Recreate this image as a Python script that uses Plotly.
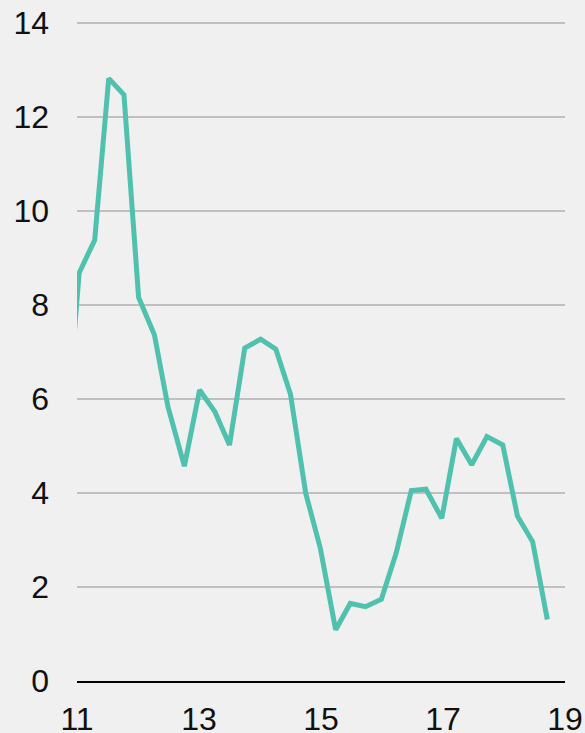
import plotly.graph_objects as go

# Quarterly observations (year offset from 2000); first point lies just before the axis start and is clipped
x_vals = [10.79, 11.035, 11.29, 11.52, 11.77, 12.01, 12.27, 12.49, 12.76, 13.01, 13.26, 13.50, 13.75,
          14.01, 14.26, 14.50, 14.75, 14.99, 15.24, 15.48, 15.73, 15.99, 16.23, 16.48,
          16.72, 16.98, 17.22, 17.47, 17.72, 17.98, 18.22, 18.47, 18.71]
y_vals = [4.7, 8.68, 9.38, 12.82, 12.47, 8.16, 7.36, 5.84, 4.57, 6.19, 5.73, 5.02, 7.08,
          7.27, 7.06, 6.10, 3.99, 2.82, 1.09, 1.65, 1.58, 1.74, 2.71, 4.05,
          4.08, 3.46, 5.16, 4.60, 5.20, 5.02, 3.51, 2.96, 1.31]

x_ticks = [11, 13, 15, 17, 19]
y_ticks = [0, 2, 4, 6, 8, 10, 12, 14]

bg = "#f0f0f0"
font_family = "Liberation Sans, Arial, sans-serif"

fig = go.Figure()
fig.add_trace(go.Scatter(
    x=x_vals, y=y_vals, mode="lines",
    line=dict(color="#50c1ae", width=5),
    hoverinfo="skip", showlegend=False,
))

fig.update_layout(
    width=585, height=733,
    margin=dict(l=77, r=20, t=21, b=52, pad=0),
    paper_bgcolor=bg, plot_bgcolor=bg,
    font=dict(family=font_family, size=32, color="#111111"),
    showlegend=False,
)
fig.update_xaxes(
    range=[11, 19], tickvals=x_ticks, ticktext=[str(v) for v in x_ticks],
    showgrid=False, zeroline=False, automargin=False,
    showline=True, linecolor="#000000", linewidth=2,
    ticks="", ticklabelstandoff=9,
    tickfont=dict(size=32),
)
fig.update_yaxes(
    range=[0, 14.04], tickvals=y_ticks, ticktext=[str(v) for v in y_ticks],
    showgrid=True, gridcolor="#c0c0c0", gridwidth=2,
    zeroline=False, showline=False, automargin=False,
    ticks="", ticklabelstandoff=27,
    tickfont=dict(size=32),
)

fig.write_html(
    "out.html",
    config={"displayModeBar": False},
    post_script="document.body.style.margin='0';document.body.style.overflow='hidden';document.body.style.background='%s';" % bg,
)
